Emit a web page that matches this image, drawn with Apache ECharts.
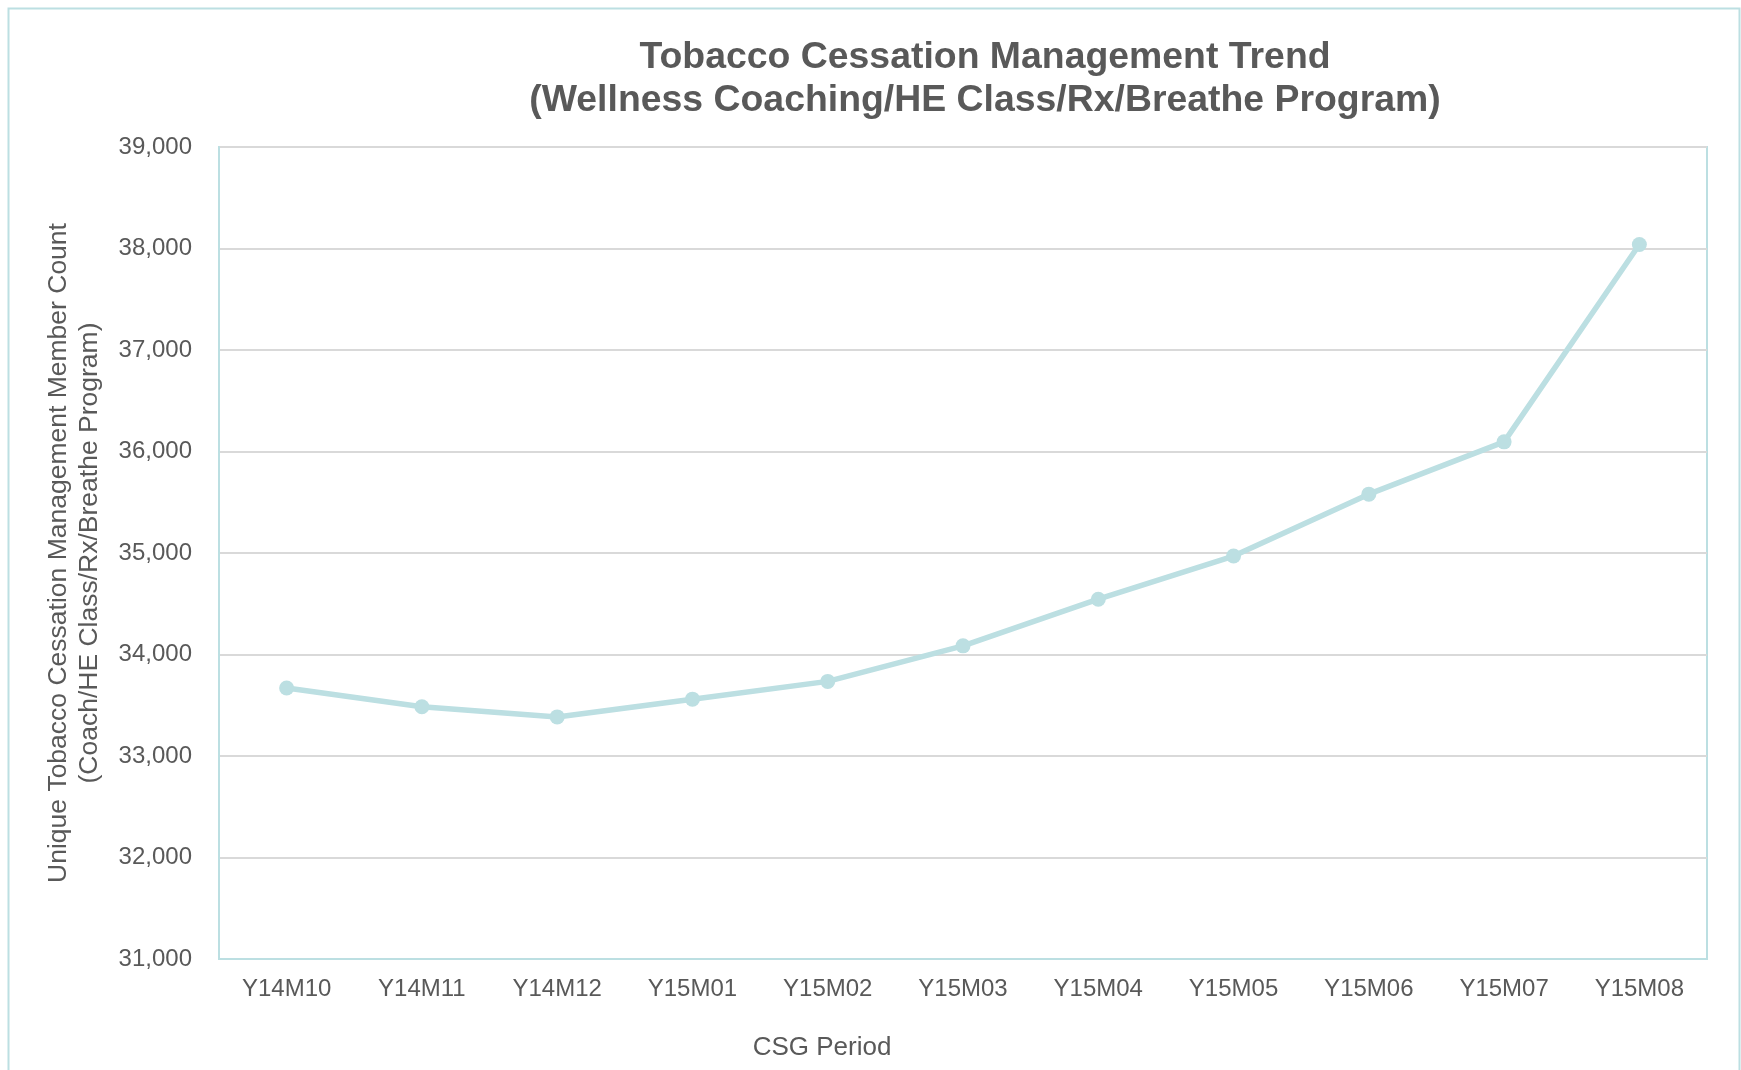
<!DOCTYPE html>
<html>
<head>
<meta charset="utf-8">
<script src="https://cdn.jsdelivr.net/npm/echarts@6/dist/echarts.min.js"></script>
<style>
  html, body { margin: 0; padding: 0; background: #fff; }
  #chart { width: 1741px; height: 1070px; }
</style>
</head>
<body>
<div id="chart"></div>
<script>
const periods = ['Y14M10', 'Y14M11', 'Y14M12', 'Y15M01', 'Y15M02', 'Y15M03', 'Y15M04', 'Y15M05', 'Y15M06', 'Y15M07', 'Y15M08']
const memberCounts = [33670, 33485, 33385, 33560, 33735, 34085, 34545, 34970, 35580, 36095, 38040]
const yMin = 31000
const yMax = 39000
const yStep = 1000

const teal = '#bcdfe2'
const textColor = '#595959'
const font = '"Liberation Sans", Arial, sans-serif'

const chart = echarts.init(document.getElementById('chart'))

chart.setOption({
  backgroundColor: '#fff',
  animation: false,
  textStyle: { fontFamily: font },
  title: [
    {
      text: 'Tobacco Cessation Management Trend\n(Wellness Coaching/HE Class/Rx/Breathe Program)',
      left: 980,
      top: 31,
      textAlign: 'center',
      textStyle: {
        fontSize: 37.4,
        fontWeight: 'bold',
        color: textColor,
        lineHeight: 43,
        fontFamily: font,
      },
    },
    {
      text: 'CSG Period',
      left: 817,
      top: 1030,
      textAlign: 'center',
      textStyle: { fontSize: 26, fontWeight: 'normal', color: textColor, fontFamily: font },
    },
  ],
  graphic: [
    {
      type: 'rect',
      shape: { x: 8.5, y: 8.5, width: 1731, height: 1100 },
      style: { fill: 'none', stroke: teal, lineWidth: 2 },
      silent: true,
      z: -1,
    },
  ],
  grid: {
    left: 219,
    right: 34,
    top: 147,
    bottom: 111,
    show: true,
    borderColor: teal,
    borderWidth: 2,
    containLabel: false,
  },
  xAxis: {
    type: 'category',
    data: periods,
    boundaryGap: true,
    axisLine: { show: true, lineStyle: { color: teal, width: 2 } },
    axisTick: { show: false },
    axisLabel: { color: textColor, fontSize: 24, margin: 18, fontFamily: font },
    splitLine: { show: false },
  },
  yAxis: {
    type: 'value',
    min: yMin,
    max: yMax,
    interval: yStep,
    name: 'Unique Tobacco Cessation Management Member Count\n(Coach/HE Class/Rx/Breathe Program)',
    nameLocation: 'middle',
    nameGap: 114,
    nameTextStyle: { color: textColor, fontSize: 26.5, lineHeight: 31, fontFamily: font },
    axisLine: { show: true, lineStyle: { color: teal, width: 2 } },
    axisTick: { show: false },
    axisLabel: {
      color: textColor,
      fontSize: 24,
      margin: 27,
      fontFamily: font,
      formatter: (v) => v.toLocaleString('en-US'),
    },
    splitLine: { show: true, lineStyle: { color: '#d9d9d9', width: 2 } },
  },
  series: [
    {
      type: 'line',
      data: memberCounts,
      symbol: 'circle',
      symbolSize: 15,
      lineStyle: { color: teal, width: 5.5 },
      itemStyle: { color: teal },
    },
  ],
})
</script>
</body>
</html>
